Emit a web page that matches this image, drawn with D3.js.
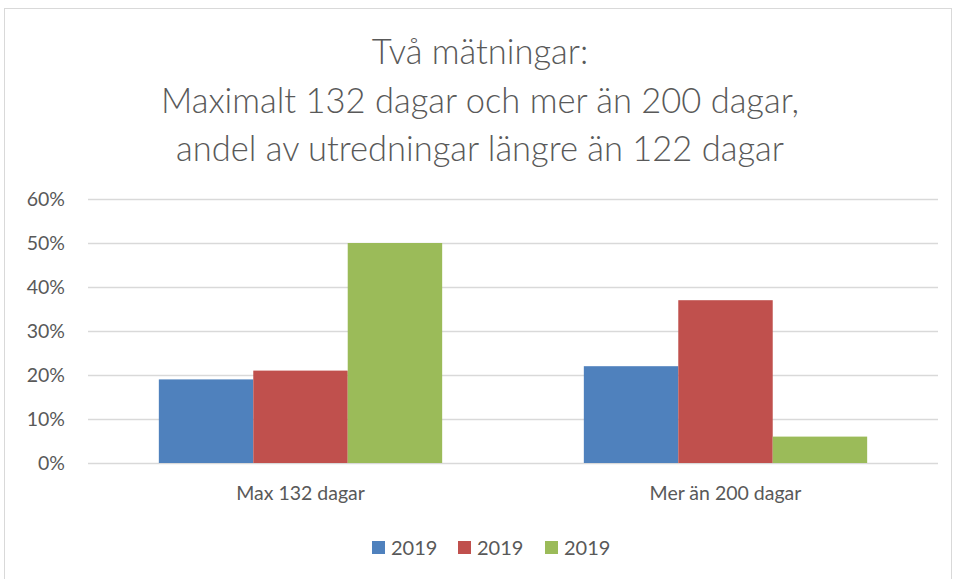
<!DOCTYPE html>
<html><head><meta charset="utf-8">
<script src="https://cdn.jsdelivr.net/npm/d3@7"></script>
<style>body{margin:0;background:#fff}svg{display:block;font-family:Lato,"Open Sans",sans-serif}</style>
</head><body><svg id="c" width="960" height="579"></svg>
<script>
const titleLines = ["Två mätningar:", "Maximalt 132 dagar och mer än 200 dagar,", "andel av utredningar längre än 122 dagar"];
const categories = ["Max 132 dagar", "Mer än 200 dagar"];
const seriesNames = ["2019", "2019", "2019"];
const seriesA = [0.19, 0.22];
const seriesB = [0.21, 0.37];
const seriesC = [0.50, 0.06];
const yTicks = [0, 0.1, 0.2, 0.3, 0.4, 0.5, 0.6];
const colors = ["#4f81bd", "#c0504d", "#9bbb59"];

(function(){
const series = [seriesA, seriesB, seriesC];
const svg = d3.select("#c");
svg.append("rect").attr("x",4.5).attr("y",8.5).attr("width",947).attr("height",580)
  .attr("fill","#fff").attr("stroke","#d9d9d9");

const pl = 88, pr = 938, pt = 199, pb = 463;
const x0 = d3.scaleBand().domain(categories).range([pl, pr]);
const y = d3.scaleLinear().domain([0, 0.6]).range([pb, pt]);

const tt = svg.append("text").attr("text-anchor","middle").attr("fill","#595959")
  .attr("font-size",34.5).attr("font-weight",300);
titleLines.forEach((l,i)=> tt.append("tspan").attr("x",480).attr("y",64+i*48.5).text(l));

const ya = d3.axisLeft(y).tickValues(yTicks).tickFormat(d3.format(".0%")).tickSize(-(pr-pl)).tickPadding(23);
const g = svg.append("g").attr("transform",`translate(${pl},0)`).call(ya);
g.select(".domain").remove();
g.selectAll(".tick line").attr("stroke","#d9d9d9").attr("stroke-width",1.5);
g.selectAll(".tick text").attr("fill","#595959").attr("font-size",19.5).attr("font-family","Lato,sans-serif");

const bw = x0.bandwidth();
const barW = bw / 4.5;
const x1 = d3.scaleBand().domain(d3.range(3)).range([barW*0.75, barW*3.75]);
categories.forEach((c, ci) => {
  series.forEach((s, si) => {
    svg.append("rect")
      .attr("x", x0(c) + x1(si))
      .attr("y", y(s[ci]))
      .attr("width", x1.bandwidth())
      .attr("height", y(0) - y(s[ci]))
      .attr("fill", colors[si]);
  });
});

const xa = d3.axisBottom(x0).tickSize(0).tickPadding(23);
const gx = svg.append("g").attr("transform",`translate(0,${pb})`).call(xa);
gx.select(".domain").remove();
gx.selectAll("text").attr("fill","#595959").attr("font-size",19.5).attr("font-family","Lato,sans-serif");

const legX = [372, 458, 545];
seriesNames.forEach((n,i)=>{
  svg.append("rect").attr("x",legX[i]).attr("y",541).attr("width",13).attr("height",13).attr("fill",colors[i]);
  svg.append("text").attr("x",legX[i]+19).attr("y",555).attr("fill","#595959").attr("font-size",20).text(n);
});
})();
</script></body></html>
